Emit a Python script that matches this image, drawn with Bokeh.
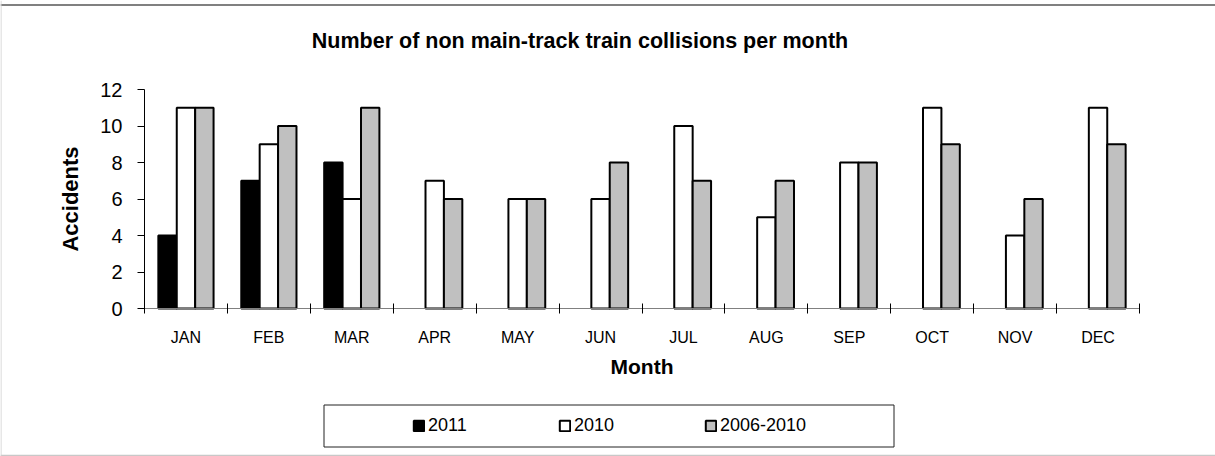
from bokeh.plotting import figure
from bokeh.models import (Range1d, FixedTicker, Legend, LegendItem, BoxAnnotation, ColumnDataSource,
                          Label, Span)
from bokeh.transform import dodge
from bokeh.embed import file_html
from bokeh.resources import INLINE

nan = float("nan")
months = ["JAN", "FEB", "MAR", "APR", "MAY", "JUN", "JUL", "AUG", "SEP", "OCT", "NOV", "DEC"]
acc_2011 = [4, 7, 8, nan, nan, nan, nan, nan, nan, nan, nan, nan]
acc_2010 = [11, 9, 6, 7, 6, 6, 10, 5, 8, 11, 4, 11]
acc_2006_2010 = [11, 10, 11, 6, 6, 8, 7, 7, 8, 9, 6, 9]
series_labels = ["2011", "2010", "2006-2010"]
y_ticks = [0, 2, 4, 6, 8, 10, 12]
y_max = 12
title_text = "Number of non main-track train collisions per month"

FONT = "Liberation Sans"

# ---- layout (pixels on the 1215x456 canvas) ----
W, H = 1215, 456
PL, PR, PT, PB = 144, 1139, 89, 308          # plot-area box
n = len(months)
kx = (PR - PL) / n
ky = (PB - PT) / y_max


def px2x(px):
    return -0.5 + (px - PL) / kx


def py2y(py):
    return (PB - py) / ky


xpos = list(range(n))
src = ColumnDataSource(dict(x=xpos, month=months, a=acc_2011, b=acc_2010, c=acc_2006_2010))

p = figure(x_range=Range1d(px2x(0), px2x(W)), y_range=Range1d(py2y(H), py2y(0)),
           width=W, height=H, output_backend="svg", toolbar_location=None,
           min_border_left=0, min_border_right=0, min_border_top=0, min_border_bottom=0)
p.outline_line_color = None
p.xgrid.visible = False
p.ygrid.visible = False
p.background_fill_color = "white"
p.border_fill_color = "white"

bw = 0.222
r1 = p.vbar(x=dodge("x", -bw), top="a", width=bw, source=src,
            fill_color="black", line_color="black", line_width=2)
r2 = p.vbar(x=dodge("x", 0), top="b", width=bw, source=src,
            fill_color="white", line_color="black", line_width=2)
r3 = p.vbar(x=dodge("x", bw), top="c", width=bw, source=src,
            fill_color="#c0c0c0", line_color="black", line_width=2)

# y axis
ya = p.yaxis[0]
ya.fixed_location = -0.5
ya.bounds = (0, y_max)
ya.ticker = FixedTicker(ticks=y_ticks)
ya.major_tick_in = 0
ya.major_tick_out = 7
ya.minor_tick_out = 0
ya.minor_tick_in = 0
ya.axis_line_color = "black"
ya.major_tick_line_color = "black"
ya.major_label_standoff = 15
ya.major_label_text_font = FONT
ya.major_label_text_font_size = "20px"
ya.major_label_text_color = "black"
ya.axis_label = "Accidents"
ya.axis_label_text_font = FONT
ya.axis_label_text_font_size = "22px"
ya.axis_label_text_font_style = "bold"
ya.axis_label_text_color = "black"
ya.axis_label_standoff = 14

# x axis: labels at month centres, ticks at month boundaries
xa = p.xaxis[0]
xa.fixed_location = 0
xa.bounds = (-0.5, n - 0.5)
xa.ticker = FixedTicker(ticks=xpos, minor_ticks=[i - 0.5 for i in range(n + 1)])
xa.major_label_overrides = {i: m for i, m in zip(xpos, months)}
xa.major_tick_in = 0
xa.major_tick_out = 0
xa.minor_tick_in = 5
xa.minor_tick_out = 5
xa.minor_tick_line_color = "black"
xa.axis_line_color = "#808080"
xa.major_label_standoff = 15
xa.major_label_text_font = FONT
xa.major_label_text_font_size = "16px"
xa.major_label_text_color = "black"
xa.axis_label = "Month"
xa.axis_label_text_font = FONT
xa.axis_label_text_font_size = "21px"
xa.axis_label_text_font_style = "bold"
xa.axis_label_text_color = "black"
xa.axis_label_standoff = 6

# title
p.add_layout(Label(x=px2x(579.5), y=py2y(40), text=title_text, text_align="center",
                   text_baseline="middle", text_font=FONT, text_font_size="21.5px",
                   text_font_style="bold", text_color="black"))

# chart-area border lines
p.add_layout(Span(location=py2y(4.5), dimension="width", line_color="#808080", line_width=2))
p.add_layout(Span(location=py2y(455), dimension="width", line_color="#c8c8c8", line_width=1.5))
p.add_layout(Span(location=px2x(0.5), dimension="height", line_color="#d0d0d0", line_width=1))

# legend box
p.add_layout(BoxAnnotation(left=px2x(323.5), right=px2x(893.5), top=py2y(404.5), bottom=py2y(446.5),
                           fill_alpha=0, line_color="#222222", line_alpha=1, line_width=1))

legend = Legend(items=[LegendItem(label=series_labels[0], renderers=[r1]),
                       LegendItem(label=series_labels[1], renderers=[r2]),
                       LegendItem(label=series_labels[2], renderers=[r3])],
                location=(412, 20), orientation="horizontal", padding=0, margin=0,
                spacing=89, glyph_width=13, glyph_height=13, label_standoff=3,
                label_width=41, label_height=21,
                label_text_font=FONT, label_text_font_size="18px", label_text_color="black",
                border_line_color=None, background_fill_alpha=0)
p.add_layout(legend)

open("out.html", "w").write(file_html(p, INLINE))
